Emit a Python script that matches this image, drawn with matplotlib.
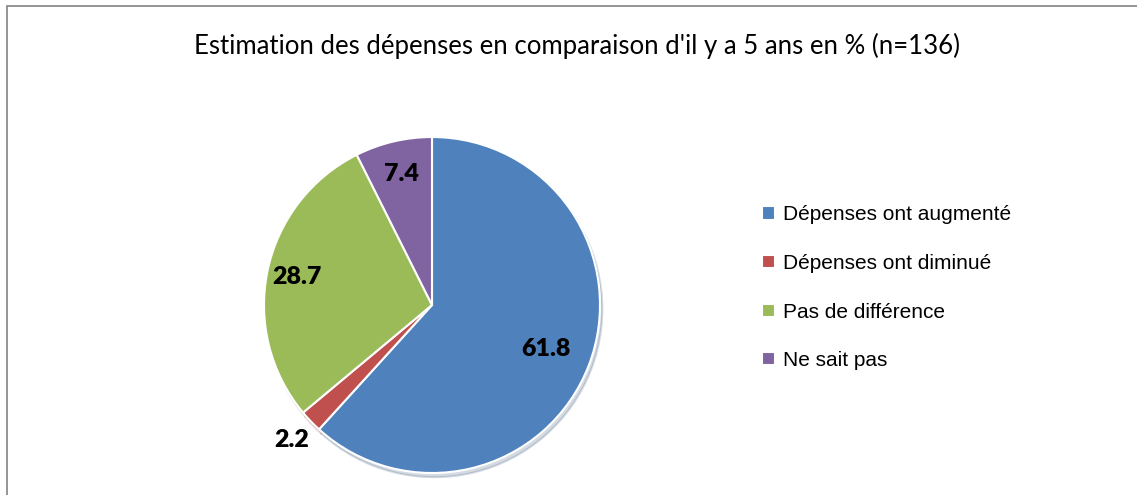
import matplotlib.pyplot as plt
from matplotlib.patches import Rectangle
import numpy as np

categories = ["Dépenses ont augmenté", "Dépenses ont diminué",
              "Pas de différence", "Ne sait pas"]
values = [61.8, 2.2, 28.7, 7.4]
colors = ["#4F81BD", "#C0504D", "#9BBB59", "#8064A2"]
label_dist = [0.73, 1.16, 0.82, 0.80]
title = "Estimation des dépenses en comparaison d'il y a 5 ans en % (n=136)"

W, H = 1137, 495
fig = plt.figure(figsize=(W / 100, H / 100), dpi=100)

# chart frame (runs off the right and bottom edge)
fig.patches.append(Rectangle((7 / W, -0.1), 1.2, (H - 6) / H + 0.1,
                             transform=fig.transFigure, fill=False,
                             edgecolor="#8c8c8c", linewidth=1.3))

cx, cy, r = 432, 305, 168
ax = fig.add_axes([(cx - r) / W, (H - cy - r) / H, 2 * r / W, 2 * r / H])
wedges, _ = ax.pie(values, colors=colors, startangle=90, counterclock=False,
                   radius=1.0, wedgeprops=dict(edgecolor="white", linewidth=1.5),
                   shadow=dict(ox=0.01, oy=-0.018, shade=0.4, alpha=0.2))
ax.set_xlim(-1, 1)
ax.set_ylim(-1, 1)
ax.set_aspect("equal")
ax.axis("off")

for w, v, d in zip(wedges, values, label_dist):
    ang = np.deg2rad((w.theta1 + w.theta2) / 2)
    ax.text(d * np.cos(ang), d * np.sin(ang), f"{v:.1f}", ha="center", va="center",
            fontsize=18, fontweight="heavy", family="Lato", color="black")

fig.text(577 / W, 1 - 46 / H, title, ha="center", va="center",
         fontsize=18.5, family="Lato")

fig.legend(wedges, categories, loc="upper left",
           bbox_to_anchor=(754 / W, 1 - 197 / H), frameon=False,
           prop=dict(family="Liberation Sans", size=15),
           handlelength=0.6, handleheight=0.6, handletextpad=0.4,
           labelspacing=1.42, borderaxespad=0)

fig.savefig("out.png", dpi=100)
